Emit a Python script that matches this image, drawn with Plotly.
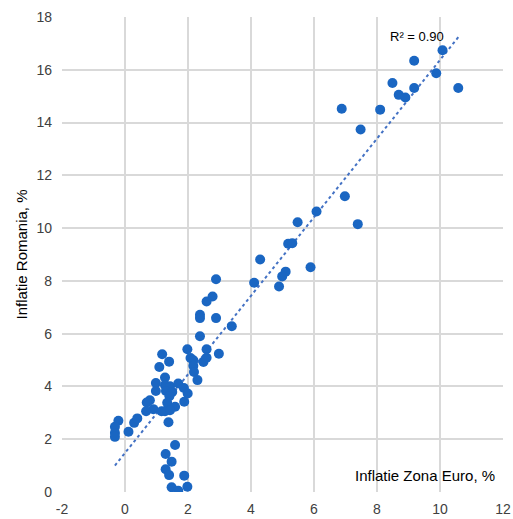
import numpy as np
import plotly.graph_objects as go

# Inflatie Zona Euro, % (x) vs Inflatie Romania, % (y)
euro_infl = [
    10.08, 9.18, 8.49, 9.88, 9.18, 10.58, 8.69, 8.90, 6.88, 8.10, 7.48,
    6.98, 6.08, 5.48, 7.39, 5.18, 5.31, 4.29, 5.89, 5.10, 4.99, 4.10, 4.89,
    2.89, 2.78, 2.59, 2.38, 2.38, 2.89, 3.39, 2.38, 1.98, 2.59, 2.98,
    1.18, 1.40, 1.09, 2.08, 2.17, 2.49, 2.59, 2.17, 2.19, 2.30,
    1.27, 0.98, 1.27, 1.43, 1.69, 0.98, 1.30, 1.50, 1.87, 1.99, 1.41,
    1.88, 0.79, 0.69, 1.34, 1.59, 0.90, 0.67, 1.16, 1.27, 1.43, 1.38,
    -0.21, -0.32, -0.32, -0.32, 0.11, 0.29, 0.39,
    1.59, 1.29, 1.48, 1.29, 1.40, 1.88, 1.48, 1.69, 1.98,
]
romania_infl = [
    16.74, 16.34, 15.50, 15.87, 15.31, 15.31, 15.05, 14.95, 14.52, 14.49, 13.74,
    11.21, 10.63, 10.22, 10.15, 9.41, 9.43, 8.81, 8.52, 8.35, 8.17, 7.93, 7.79,
    8.06, 7.41, 7.22, 6.72, 6.59, 6.59, 6.28, 5.90, 5.41, 5.41, 5.24,
    5.22, 4.94, 4.74, 5.08, 4.99, 4.93, 5.09, 4.78, 4.55, 4.24,
    4.34, 4.13, 4.05, 4.01, 4.11, 3.83, 3.83, 3.79, 3.94, 3.73, 3.63,
    3.42, 3.48, 3.39, 3.38, 3.23, 3.14, 3.06, 3.06, 3.06, 3.10, 2.64,
    2.70, 2.47, 2.24, 2.09, 2.28, 2.62, 2.79,
    1.78, 1.44, 1.15, 0.86, 0.64, 0.62, 0.18, 0.05, 0.20,
]
x_ticks = [-2, 0, 2, 4, 6, 8, 10, 12]
y_ticks = [0, 2, 4, 6, 8, 10, 12, 14, 16, 18]
r2_label = "R² = 0.90"

x = np.array(euro_infl)
y = np.array(romania_infl)
slope, intercept = np.polyfit(x, y, 1)
xs = np.linspace(x.min(), x.max(), 50)
ys = slope * xs + intercept

BLUE = "#1a66c2"
GRID = "#d9d9d9"
FONT = "Liberation Sans, Arial, sans-serif"

fig = go.Figure()
fig.add_trace(go.Scatter(
    x=xs, y=ys, mode="lines",
    line=dict(color="#4472c4", width=2, dash="dot"),
    hoverinfo="skip", showlegend=False,
))
fig.add_trace(go.Scatter(
    x=euro_infl, y=romania_infl, mode="markers",
    marker=dict(color=BLUE, size=10, line=dict(width=0)),
    showlegend=False,
))

fig.add_annotation(
    x=9.26, y=17.25, text=r2_label, showarrow=False,
    font=dict(family=FONT, size=13, color="#000000"),
)
fig.add_annotation(
    xref="paper", yref="paper", x=0.986, y=0.034,
    xanchor="right", yanchor="middle",
    text="Inflatie Zona Euro, %", showarrow=False,
    font=dict(family=FONT, size=15, color="#000000"),
)

fig.update_layout(
    width=513, height=519,
    margin=dict(l=62, r=10, t=17, b=27),
    paper_bgcolor="white", plot_bgcolor="white",
    font=dict(family=FONT, size=14, color="#404040"),
    xaxis=dict(
        range=[-2, 12], tickvals=x_ticks, ticktext=[str(v) for v in x_ticks],
        showgrid=True, gridcolor=GRID, gridwidth=1.5, zeroline=False,
        showline=False, ticks="", ticklabelstandoff=7,
        tickfont=dict(family=FONT, size=14, color="#404040"),
        automargin=False,
        fixedrange=True,
    ),
    yaxis=dict(
        range=[0, 18], tickvals=y_ticks, ticktext=[str(v) for v in y_ticks],
        showgrid=True, gridcolor=GRID, gridwidth=1.5, zeroline=False,
        showline=False, ticks="", ticklabelstandoff=9,
        tickfont=dict(family=FONT, size=14, color="#404040"),
        title=dict(text="Inflatie Romania, %", standoff=5,
                   font=dict(family=FONT, size=15, color="#000000")),
        automargin=False,
        fixedrange=True,
    ),
)

fig.write_html(
    "out.html",
    config={"displayModeBar": False},
    post_script="document.body.style.margin='0';document.body.style.overflow='hidden';",
)
